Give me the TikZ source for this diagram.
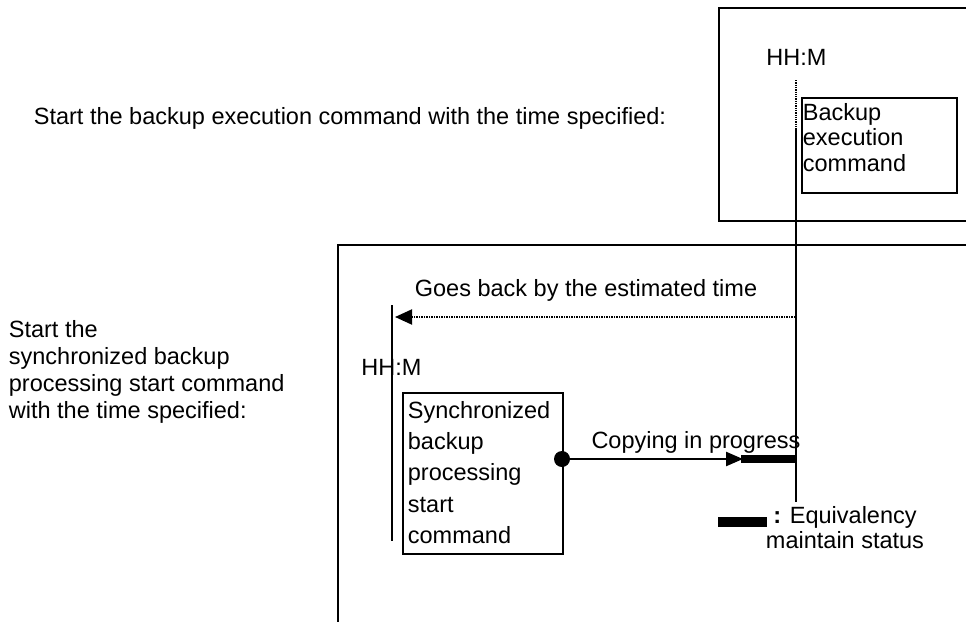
\documentclass[tikz,border=0pt]{standalone}
\usepackage{fontspec}
\setmainfont{Liberation Sans}
\usetikzlibrary{positioning,arrows.meta}

\begin{document}
\begin{tikzpicture}[x=1pt, y=-1pt, line width=1.8pt,
  every node/.style={font=\fontsize{23.5}{27}\selectfont, inner sep=0pt},
  cmdbox/.style={draw, line width=1.8pt, anchor=north west},
  timeline/.style={line width=1.9pt},
  eqbar/.style={line width=8pt},
  tip/.style={-{Triangle[length=17pt,width=14pt]}}]
  %----- canvas -----
  \useasboundingbox (0,0) rectangle (966,621);
  \clip (0,0) rectangle (966,621);

  %----- outer frames (cut at the right edge) -----
  \draw (990,8) -- (719,8) -- (719,221) -- (990,221);
  \draw (990,245) -- (338,245) -- (338,640);

  %----- left-hand texts -----
  \node[anchor=west] (bkpstart) at (33,118)
    {Start the backup execution command with the time specified:};
  \node[anchor=west, align=left] (syncstart) at (8,372)
    {Start the\\synchronized backup\\processing start command\\with the time specified:};

  %----- backup execution command (top) -----
  \node (bkphhm) at (796.5,57) {HH:M};
  \node[cmdbox, minimum width=155pt, minimum height=95pt] (bkpbox) at (801,97) {};
  \node[anchor=west, align=left, font=\fontsize{23.5}{25.5}\selectfont] (bkpcmd) at (802,137.5)
    {Backup\\execution\\command};
  \coordinate (bkptop) at (796,80);
  \coordinate (bkpmid) at (796,128);
  \coordinate (bkpend) at (796,502);
  \draw[timeline, dash pattern=on 1.3pt off 1pt, line width=1.6pt] (bkptop) -- (bkpmid);
  \draw[timeline] (bkpmid) -- (bkpend);

  %----- goes back by the estimated time -----
  \node (goesback) at (586,290) {Goes back by the estimated time};
  \coordinate (backfrom) at (795,317);
  \coordinate (backto) at (395,317);
  \draw[dash pattern=on 1.5pt off 1pt, line width=2pt, -{Triangle[length=17pt,width=15pt]}] (backfrom) -- (backto);

  %----- synchronized backup processing start command -----
  \node (synchhm) at (391.5,367) {HH:M};
  \coordinate (synctop) at (392,305);
  \coordinate (syncend) at (392,541);
  \draw[timeline] (synctop) -- (syncend);
  \node[cmdbox, minimum width=160pt, minimum height=161pt] (syncbox) at (402,392) {};
  \node[anchor=west, align=left, font=\fontsize{23.5}{31.3}\selectfont] (synccmd) at (407,472.5)
    {Synchronized\\backup\\processing\\start\\command};

  %----- copying in progress -----
  \coordinate (copystart) at (562,459);
  \coordinate (copyend) at (743,459);
  \coordinate (eqstart) at (741,459);
  \coordinate (eqend) at (bkpend |- copystart);
  \draw[tip, line width=2.4pt] (copystart) -- (copyend);
  \fill (copystart) circle (8pt);
  \draw[eqbar] (eqstart) -- (eqend);
  \node (copying) at (696,442) {Copying in progress};

  %----- legend -----
  \node[align=center, font=\fontsize{23.5}{25}\selectfont] (eqlabel) at (845,528)
    {\textbf{:} Equivalency\\maintain status};
  \coordinate (legl) at (718,522);
  \coordinate (legr) at (767,522);
  \draw[eqbar, line width=10pt] (legl) -- (legr);
\end{tikzpicture}
\end{document}
